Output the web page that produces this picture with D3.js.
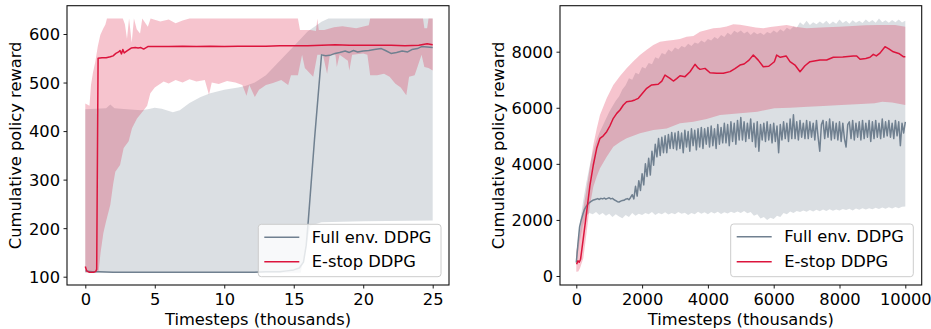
<!DOCTYPE html>
<html><head><meta charset="utf-8">
<script src="https://cdn.jsdelivr.net/npm/d3@7"></script>
<style>body{margin:0;background:#fff} svg{display:block} text{font-family:"DejaVu Sans",sans-serif;fill:#000}</style>
</head><body>
<svg id="chart" width="931" height="329"></svg>
<script>
// ---------- LEFT PANEL DATA (timesteps in thousands) ----------
const leftXTicks = [0, 5, 10, 15, 20, 25];
const leftYTicks = [100, 200, 300, 400, 500, 600];

const leftFullX = [0, 0.5, 1, 2, 4, 6, 8, 10, 12, 13, 14, 14.5, 15, 15.4, 15.7, 15.9, 16.04, 16.5, 17.0, 17.3, 17.6, 17.97, 18.3, 18.7, 19.0, 19.3, 19.6, 20.0, 20.4, 20.8, 21.3, 21.6, 22.0, 22.4, 22.8, 23.2, 23.5, 23.9, 24.2, 24.6, 25];
const leftFullMean = [112, 110, 110, 109, 109, 109, 109, 109, 109, 110, 110, 112, 114, 118, 130, 165, 213, 385, 557, 555, 556, 560, 562, 565, 562, 566, 563, 565, 566, 568, 570, 566, 560, 562, 565, 563, 568, 570, 574, 573, 572];
const leftFullHiX = [0, 1.5, 1.8, 2.1, 3, 4, 4.5, 5, 5.5, 6.3, 6.8, 7.5, 8.3, 9, 10, 11, 11.5, 12.2, 13, 14, 15, 16, 17, 17.5, 25];
const leftFullHi = [445, 447, 455, 447, 445, 443, 445, 448, 446, 439, 443, 458, 470, 478, 485, 490, 493, 500, 515, 545, 575, 605, 625, 632, 632];
const leftFullLoX = [0, 15.5, 15.8, 16.2, 17, 20, 25];
const leftFullLo = [108, 108, 150, 205, 212, 214, 216];

const leftEstopX = [0, 0.1, 0.3, 0.6, 0.75, 0.82, 0.92, 1.2, 1.5, 1.8, 2.0, 2.2, 2.4, 2.5, 2.6, 2.7, 2.8, 3.0, 3.3, 3.6, 3.8, 4.0, 4.2, 4.5, 5, 6, 7, 8, 9, 10, 11, 12, 13, 14, 15, 16, 17, 18, 19, 20, 21, 22, 23, 24, 24.6, 25];
const leftEstopMean = [121, 112, 109, 109, 111, 115, 550, 551, 551, 553, 555, 560, 563, 566, 559, 568, 561, 565, 571, 572, 571, 572, 569, 574, 574, 574, 575, 574, 575, 574, 575, 575, 575, 576, 576, 576, 577, 578, 577, 577, 577, 577, 576, 577, 580, 578];
const leftEstopHiX = [0, 0.3, 0.41, 0.55, 0.72, 0.9, 1.08, 1.3, 1.44, 1.56, 2.7, 2.85, 3.0, 3.15, 3.34, 3.5, 3.7, 3.94, 4.1, 4.5, 4.7, 5.4, 6, 6.5, 7, 7.5, 15.3, 15.45, 16.2, 16.6, 16.7, 16.8, 17.2, 17.9, 18.5, 19.5, 20.4, 20.5, 24.3, 24.4, 24.6, 24.7, 25];
const leftEstopHi = [457, 452, 495, 520, 543, 575, 598, 612, 619, 632, 632, 620, 590, 632, 582, 632, 610, 601, 632, 615, 632, 626, 630, 622, 628, 632, 632, 608, 608, 606, 632, 608, 608, 614, 616, 612, 618, 632, 632, 612, 612, 632, 632];
const leftEstopLoX = [0, 0.8, 0.96, 1.1, 1.3, 1.5, 1.8, 2.0, 2.16, 2.5, 2.76, 3.12, 3.36, 3.72, 4.2, 4.45, 4.68, 5.0, 5.64, 6.0, 6.5, 7.0, 7.5, 8.0, 8.6, 8.9, 9.1, 9.6, 10.2, 10.8, 11.3, 11.6, 11.8, 12.2, 12.5, 13.0, 13.5, 14.1, 14.6, 14.8, 15.3, 15.6, 15.8, 16.4, 16.7, 17.1, 17.4, 17.6, 18.0, 18.1, 18.3, 18.9, 19.0, 19.2, 20.0, 20.3, 20.5, 21.0, 21.5, 21.9, 22.3, 22.7, 23.1, 23.3, 23.7, 24.2, 24.4, 24.7, 25.0];
const leftEstopLo = [109, 109, 112, 150, 190, 215, 248, 290, 316, 330, 365, 379, 406, 426, 443, 452, 478, 490, 502, 498, 505, 500, 507, 502, 505, 475, 500, 497, 503, 500, 495, 473, 495, 470, 485, 495, 499, 505, 495, 515, 515, 557, 530, 512, 557, 557, 518, 557, 557, 532, 557, 545, 525, 557, 560, 557, 515, 515, 518, 512, 498, 490, 474, 512, 515, 557, 532, 530, 525];

// ---------- RIGHT PANEL DATA (timesteps in thousands) ----------
const rightXTicks = [0, 2000, 4000, 6000, 8000, 10000];
const rightYTicks = [0, 2000, 4000, 6000, 8000];

const rightFullX = d3.range(0, 10001, 50);
const rightFullMean = [480, 1150, 1750, 2000, 2200, 2380, 2480, 2560, 2620, 2660,
 2700, 2720, 2740, 2760, 2730, 2770, 2750, 2780, 2740, 2770,
 2790, 2750, 2770, 2720, 2690, 2650, 2640, 2670, 2690, 2700,
 2740, 2760, 2720, 2800,
 2900, 2750, 3200, 2850, 3400, 3050, 3650, 3250, 4000, 3550, 4200, 3600, 4450, 3950, 4700, 4250, 4900, 4300, 4950, 4400,
 5000, 4400, 5050, 4550, 5120, 4550,
 5100, 4500, 5150, 4550, 5100, 4400, 5200, 4600, 5150, 4450, 5250, 4650, 5200, 4500, 5250, 4600, 5300, 4550, 5250, 4700,
 5300, 4600, 5350, 4650, 5250, 4550, 5400, 4700, 5300, 4750, 5450, 4750, 5400, 4650, 5500, 4800, 5450, 4700, 5550, 4850,
 5650, 4850, 5500, 4800, 5450, 4900, 5600, 4800, 5450, 4600, 5500, 4450, 5400, 4850, 5450, 4800, 5500, 4850, 5400, 4750,
 5450, 4800, 5350, 4400, 5400, 4850, 5500, 4900, 5450, 4800, 5600, 4900, 5750, 4900, 5500, 4850, 5550, 4950, 5450, 4900,
 5550, 4900, 5500, 4950, 5450, 4850, 5550, 4950, 4450, 5400, 5550, 4900, 5500, 4950, 5600, 4850, 5500, 4900, 5450, 4850,
 5500, 4800, 5450, 4900, 4600, 5400, 5500, 4900, 5550, 4850, 5450, 4950, 5500, 4850, 5550, 4900, 5450, 4950, 5550, 4800,
 5500, 4900, 5550, 4950, 5450, 4900, 5600, 4950, 5500, 5000, 5550, 4950, 5450, 4900, 5550, 5000, 5500, 4650, 5450, 5100, 5500];
const rightFullBandX = d3.range(0, 10001, 100);
const rightFullHi = [800, 1800, 2600, 3300, 3900, 4400, 4800, 5100, 5350, 5600, 5850, 6050, 6250, 6400, 6650, 6800, 7050, 7000, 7250, 7200,
 7450, 7400, 7600, 7550, 7800, 7750, 7950, 7900, 8080, 8000, 8150, 8080, 8200, 8150, 8280, 8200, 8330, 8280, 8400, 8330,
 8450, 8400, 8520, 8450, 8600, 8520, 8680, 8600, 8750, 8680, 8760, 8650, 8720, 8600, 8700, 8620, 8680, 8600, 8700, 8650,
 8760, 8680, 8800, 8720, 8850, 8780, 8900, 8850, 9050, 8950, 9100, 8950, 9050, 8980, 9080, 9000, 9100, 8980, 9080, 9000,
 9150, 9020, 9100, 9000, 9120, 9030, 9100, 9020, 9150, 9050, 9130, 9030, 9180, 9050, 9120, 9030, 9130, 9050, 9150, 9040, 9100];
const rightFullLo = [400, 1200, 1800, 2150, 2250, 2200, 2280, 2180, 2250, 2150, 2220, 2100, 2200, 2120, 2060, 2180, 2100, 2250, 2150, 2220,
 2180, 2250, 2200, 2280, 2180, 2250, 2200, 2270, 2190, 2250, 2200, 2280, 2220, 2260, 2180, 2250, 2200, 2290, 2220, 2270,
 2200, 2280, 2230, 2290, 2210, 2270, 2230, 2290, 2250, 2300, 2250, 2320, 2240, 2280, 2150, 2200, 2050, 2100, 2000, 2080,
 2030, 2150, 2100, 2250, 2200, 2300, 2250, 2320, 2280, 2340, 2290, 2350, 2300, 2360, 2310, 2370, 2320, 2380, 2330, 2370,
 2340, 2390, 2350, 2400, 2340, 2410, 2360, 2420, 2370, 2420, 2380, 2430, 2390, 2440, 2400, 2450, 2410, 2460, 2420, 2470, 2480];

const rightEstopX = [10, 50, 90, 130, 213, 316, 416, 517, 620, 720, 820, 924, 1020, 1125, 1230, 1328, 1430, 1530, 1682, 1780, 1885, 2000, 2140, 2290, 2490, 2600, 2696, 2848, 2950, 3050, 3152, 3305, 3457, 3608, 3700, 3760, 3912, 4064, 4270, 4469, 4672, 4823, 4976, 5100, 5250, 5380, 5530, 5684, 5850, 6020, 6091, 6200, 6378, 6495, 6647, 6800, 6950, 7103, 7407, 7610, 7812, 8100, 8419, 8523, 8625, 8800, 8927, 9028, 9120, 9230, 9383, 9500, 9635, 9800, 9939, 10000];
const rightEstopMean = [420, 540, 490, 600, 1344, 2293, 3245, 3959, 4553, 4910, 5000, 5146, 5350, 5624, 5800, 5920, 6100, 6216, 6240, 6280, 6337, 6500, 6694, 6813, 6837, 6950, 7168, 7050, 6954, 7040, 7144, 7110, 7286, 7550, 7420, 7370, 7405, 7250, 7230, 7229, 7290, 7400, 7525, 7560, 7700, 7882, 7700, 7464, 7480, 7643, 7882, 7800, 7850, 7643, 7525, 7286, 7500, 7643, 7703, 7703, 7800, 7810, 7850, 7850, 7730, 7760, 7800, 7906, 7850, 7950, 8178, 8100, 7996, 7937, 7821, 7821];
const rightEstopHiX = [0, 100, 200, 316, 420, 517, 620, 720, 924, 1125, 1330, 1530, 1735, 1935, 2140, 2342, 2545, 2750, 2950, 3150, 3355, 3560, 3760, 3960, 4165, 4370, 4570, 4773, 4976, 5200, 5450, 5684, 5900, 6150, 6394, 6700, 7000, 7300, 7600, 8000, 8400, 8800, 9200, 9687, 10000];
const rightEstopHi = [870, 1500, 2300, 3128, 3950, 4672, 5250, 5742, 6337, 6812, 7130, 7407, 7660, 7882, 8070, 8238, 8357, 8390, 8417, 8450, 8535, 8560, 8713, 8770, 8832, 8850, 8900, 8975, 8960, 8920, 8860, 8832, 8880, 8920, 8951, 8880, 8840, 8850, 8870, 8890, 8920, 8940, 8951, 8951, 8893];
const rightEstopLoX = [0, 60, 112, 213, 316, 416, 517, 620, 720, 924, 1125, 1330, 1530, 1935, 2342, 2747, 3152, 3557, 3962, 4368, 4976, 5500, 6020, 6500, 7037, 7500, 8050, 8500, 9068, 9300, 9600, 10000];
const rightEstopLo = [150, 160, 273, 630, 1580, 2532, 3185, 3550, 3840, 4256, 4611, 4780, 4910, 5087, 5206, 5265, 5444, 5503, 5600, 5742, 5802, 5860, 5980, 6000, 6040, 6060, 6098, 6130, 6158, 6217, 6190, 6100];

const seriesNames = ["Full env. DDPG", "E-stop DDPG"];
const xLabel = "Timesteps (thousands)";
const yLabel = "Cumulative policy reward";

// ---------- STYLE ----------
const GREY = "#708090", RED = "#DC143C";
const FS = 16.3;
const svg = d3.select("#chart");

function zip(xs, ys) { return xs.map((x, i) => [x, ys[i]]); }

function panel(o) {
  const g = svg.append("g");
  const x = d3.scaleLinear().domain(o.xd).range(o.xr);
  const y = d3.scaleLinear().domain(o.yd).range(o.yr);
  const id = "clip" + o.id;
  g.append("clipPath").attr("id", id).append("rect")
    .attr("x", o.fx0).attr("y", o.fy0).attr("width", o.fx1 - o.fx0).attr("height", o.fy1 - o.fy0);
  const plot = g.append("g").attr("clip-path", `url(#${id})`);
  const line = d3.line().x(d => x(d[0])).y(d => y(d[1]));

  o.bands.forEach(b => {
    const pts = zip(b.hiX, b.hi).concat(zip(b.loX, b.lo).reverse());
    plot.append("path").attr("d", line(pts) + "Z")
      .attr("fill", b.color).attr("fill-opacity", 0.25).attr("stroke", "none");
  });
  o.lines.forEach(l => {
    plot.append("path").attr("d", line(zip(l.x, l.y)))
      .attr("fill", "none").attr("stroke", l.color).attr("stroke-width", 1.5)
      .attr("stroke-linejoin", "round");
  });

  const ax = g.append("g").attr("transform", `translate(0,${o.fy1})`)
    .call(d3.axisBottom(x).tickValues(o.xt).tickSize(3.5).tickSizeOuter(0).tickPadding(4.9).tickFormat(d3.format("d")));
  const ay = g.append("g").attr("transform", `translate(${o.fx0},0)`)
    .call(d3.axisLeft(y).tickValues(o.yt).tickSize(3.5).tickSizeOuter(0).tickPadding(3.5).tickFormat(d3.format("d")));
  [ax, ay].forEach(a => {
    a.select(".domain").remove();
    a.selectAll(".tick line").attr("stroke", "#000").attr("stroke-width", 0.9);
    a.selectAll(".tick text").attr("font-size", FS).attr("font-family", "DejaVu Sans").attr("fill", "#000");
  });
  ay.selectAll(".tick text").attr("dy", "0.36em");

  g.append("rect").attr("x", o.fx0).attr("y", o.fy0)
    .attr("width", o.fx1 - o.fx0).attr("height", o.fy1 - o.fy0)
    .attr("fill", "none").attr("stroke", "#111").attr("stroke-width", 1.1);

  g.append("text").attr("x", (o.fx0 + o.fx1) / 2).attr("y", 324.5)
    .attr("text-anchor", "middle").attr("font-size", FS).text(xLabel);
  g.append("text").attr("transform", `translate(${o.ylx},${(o.fy0 + o.fy1) / 2}) rotate(-90)`)
    .attr("text-anchor", "middle").attr("font-size", FS).text(yLabel);

  const L = o.legend;
  const lg = g.append("g");
  lg.append("rect").attr("x", L.x0).attr("y", L.y0).attr("width", L.x1 - L.x0).attr("height", L.y1 - L.y0)
    .attr("rx", 3).attr("fill", "#fff").attr("fill-opacity", 0.8).attr("stroke", "#cccccc").attr("stroke-width", 1);
  [GREY, RED].forEach((c, i) => {
    const ly = L.ly[i];
    lg.append("line").attr("x1", L.x0 + 6).attr("x2", L.x0 + 41).attr("y1", ly).attr("y2", ly)
      .attr("stroke", c).attr("stroke-width", 1.5);
    lg.append("text").attr("x", L.x0 + 53.5).attr("y", ly + 5.2).attr("font-size", FS).text(seriesNames[i]);
  });
}

panel({
  id: "L", fx0: 67, fx1: 449, fy0: 5.7, fy1: 285,
  xd: [0, 25], xr: [85.3, 432.7], yd: [100, 600], yr: [276.7, 34],
  xt: leftXTicks, yt: leftYTicks, ylx: 20.5,
  bands: [
    {hiX: leftFullHiX, hi: leftFullHi, loX: leftFullLoX, lo: leftFullLo, color: GREY},
    {hiX: leftEstopHiX, hi: leftEstopHi, loX: leftEstopLoX, lo: leftEstopLo, color: RED}
  ],
  lines: [
    {x: leftFullX, y: leftFullMean, color: GREY},
    {x: leftEstopX, y: leftEstopMean, color: RED}
  ],
  legend: {x0: 258.3, x1: 441, y0: 224.3, y1: 276.7, ly: [237.3, 261.7]}
});

panel({
  id: "R", fx0: 560, fx1: 921.7, fy0: 5.7, fy1: 285,
  xd: [0, 10000], xr: [576.3, 905.3], yd: [0, 8000], yr: [276, 51.7],
  xt: rightXTicks, yt: rightYTicks, ylx: 503.5,
  bands: [
    {hiX: rightFullBandX, hi: rightFullHi, loX: rightFullBandX, lo: rightFullLo, color: GREY},
    {hiX: rightEstopHiX, hi: rightEstopHi, loX: rightEstopLoX, lo: rightEstopLo, color: RED}
  ],
  lines: [
    {x: rightFullX, y: rightFullMean, color: GREY},
    {x: rightEstopX, y: rightEstopMean, color: RED}
  ],
  legend: {x0: 730.7, x1: 913.3, y0: 224, y1: 276.7, ly: [236.7, 261.7]}
});
</script>
</body></html>
